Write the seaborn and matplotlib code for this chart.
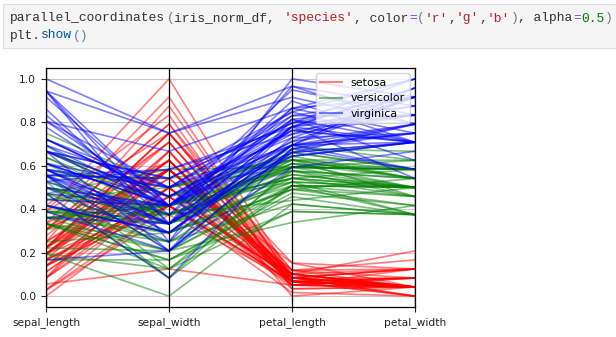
import numpy as np
import pandas as pd
import matplotlib
matplotlib.use("Agg")
import matplotlib.pyplot as plt
from matplotlib.lines import Line2D
from matplotlib.patches import Rectangle
import seaborn as sns

# Iris measurements (cm), 50 rows per species
sepal_length = [
    5.1, 4.9, 4.7, 4.6, 5.0, 5.4, 4.6, 5.0, 4.4, 4.9, 5.4, 4.8, 4.8, 4.3, 5.8, 5.7, 5.4, 5.1, 5.7, 5.1,
    5.4, 5.1, 4.6, 5.1, 4.8, 5.0, 5.0, 5.2, 5.2, 4.7, 4.8, 5.4, 5.2, 5.5, 4.9, 5.0, 5.5, 4.9, 4.4, 5.1,
    5.0, 4.5, 4.4, 5.0, 5.1, 4.8, 5.1, 4.6, 5.3, 5.0,
    7.0, 6.4, 6.9, 5.5, 6.5, 5.7, 6.3, 4.9, 6.6, 5.2, 5.0, 5.9, 6.0, 6.1, 5.6, 6.7, 5.6, 5.8, 6.2, 5.6,
    5.9, 6.1, 6.3, 6.1, 6.4, 6.6, 6.8, 6.7, 6.0, 5.7, 5.5, 5.5, 5.8, 6.0, 5.4, 6.0, 6.7, 6.3, 5.6, 5.5,
    5.5, 6.1, 5.8, 5.0, 5.6, 5.7, 5.7, 6.2, 5.1, 5.7,
    6.3, 5.8, 7.1, 6.3, 6.5, 7.6, 4.9, 7.3, 6.7, 7.2, 6.5, 6.4, 6.8, 5.7, 5.8, 6.4, 6.5, 7.7, 7.7, 6.0,
    6.9, 5.6, 7.7, 6.3, 6.7, 7.2, 6.2, 6.1, 6.4, 7.2, 7.4, 7.9, 6.4, 6.3, 6.1, 7.7, 6.3, 6.4, 6.0, 6.9,
    6.7, 6.9, 5.8, 6.8, 6.7, 6.7, 6.3, 6.5, 6.2, 5.9,
]
sepal_width = [
    3.5, 3.0, 3.2, 3.1, 3.6, 3.9, 3.4, 3.4, 2.9, 3.1, 3.7, 3.4, 3.0, 3.0, 4.0, 4.4, 3.9, 3.5, 3.8, 3.8,
    3.4, 3.7, 3.6, 3.3, 3.4, 3.0, 3.4, 3.5, 3.4, 3.2, 3.1, 3.4, 4.1, 4.2, 3.1, 3.2, 3.5, 3.6, 3.0, 3.4,
    3.5, 2.3, 3.2, 3.5, 3.8, 3.0, 3.8, 3.2, 3.7, 3.3,
    3.2, 3.2, 3.1, 2.3, 2.8, 2.8, 3.3, 2.4, 2.9, 2.7, 2.0, 3.0, 2.2, 2.9, 2.9, 3.1, 3.0, 2.7, 2.2, 2.5,
    3.2, 2.8, 2.5, 2.8, 2.9, 3.0, 2.8, 3.0, 2.9, 2.6, 2.4, 2.4, 2.7, 2.7, 3.0, 3.4, 3.1, 2.3, 3.0, 2.5,
    2.6, 3.0, 2.6, 2.3, 2.7, 3.0, 2.9, 2.9, 2.5, 2.8,
    3.3, 2.7, 3.0, 2.9, 3.0, 3.0, 2.5, 2.9, 2.5, 3.6, 3.2, 2.7, 3.0, 2.5, 2.8, 3.2, 3.0, 3.8, 2.6, 2.2,
    3.2, 2.8, 2.8, 2.7, 3.3, 3.2, 2.8, 3.0, 2.8, 3.0, 2.8, 3.8, 2.8, 2.8, 2.6, 3.0, 3.4, 3.1, 3.0, 3.1,
    3.1, 3.1, 2.7, 3.2, 3.3, 3.0, 2.5, 3.0, 3.4, 3.0,
]
petal_length = [
    1.4, 1.4, 1.3, 1.5, 1.4, 1.7, 1.4, 1.5, 1.4, 1.5, 1.5, 1.6, 1.4, 1.1, 1.2, 1.5, 1.3, 1.4, 1.7, 1.5,
    1.7, 1.5, 1.0, 1.7, 1.9, 1.6, 1.6, 1.5, 1.4, 1.6, 1.6, 1.5, 1.5, 1.4, 1.5, 1.2, 1.3, 1.4, 1.3, 1.5,
    1.3, 1.3, 1.3, 1.6, 1.9, 1.4, 1.6, 1.4, 1.5, 1.4,
    4.7, 4.5, 4.9, 4.0, 4.6, 4.5, 4.7, 3.3, 4.6, 3.9, 3.5, 4.2, 4.0, 4.7, 3.6, 4.4, 4.5, 4.1, 4.5, 3.9,
    4.8, 4.0, 4.9, 4.7, 4.3, 4.4, 4.8, 5.0, 4.5, 3.5, 3.8, 3.7, 3.9, 5.1, 4.5, 4.5, 4.7, 4.4, 4.1, 4.0,
    4.4, 4.6, 4.0, 3.3, 4.2, 4.2, 4.2, 4.3, 3.0, 4.1,
    6.0, 5.1, 5.9, 5.6, 5.8, 6.6, 4.5, 6.3, 5.8, 6.1, 5.1, 5.3, 5.5, 5.0, 5.1, 5.3, 5.5, 6.7, 6.9, 5.0,
    5.7, 4.9, 6.7, 4.9, 5.7, 6.0, 4.8, 4.9, 5.6, 5.8, 6.1, 6.4, 5.6, 5.1, 5.6, 6.1, 5.6, 5.5, 4.8, 5.4,
    5.6, 5.1, 5.1, 5.9, 5.7, 5.2, 5.0, 5.2, 5.4, 5.1,
]
petal_width = [
    0.2, 0.2, 0.2, 0.2, 0.2, 0.4, 0.3, 0.2, 0.2, 0.1, 0.2, 0.2, 0.1, 0.1, 0.2, 0.4, 0.4, 0.3, 0.3, 0.3,
    0.2, 0.4, 0.2, 0.5, 0.2, 0.2, 0.4, 0.2, 0.2, 0.2, 0.2, 0.4, 0.1, 0.2, 0.2, 0.2, 0.2, 0.1, 0.2, 0.2,
    0.3, 0.3, 0.2, 0.6, 0.4, 0.3, 0.2, 0.2, 0.2, 0.2,
    1.4, 1.5, 1.5, 1.3, 1.5, 1.3, 1.6, 1.0, 1.3, 1.4, 1.0, 1.5, 1.0, 1.4, 1.3, 1.4, 1.5, 1.0, 1.5, 1.1,
    1.8, 1.3, 1.5, 1.2, 1.3, 1.4, 1.4, 1.7, 1.5, 1.0, 1.1, 1.0, 1.2, 1.6, 1.5, 1.6, 1.5, 1.3, 1.3, 1.3,
    1.2, 1.4, 1.2, 1.0, 1.3, 1.2, 1.3, 1.3, 1.1, 1.3,
    2.5, 1.9, 2.1, 1.8, 2.2, 2.1, 1.7, 1.8, 1.8, 2.5, 2.0, 1.9, 2.1, 2.0, 2.4, 2.3, 1.8, 2.2, 2.3, 1.5,
    2.3, 2.0, 2.0, 1.8, 2.1, 1.8, 1.8, 1.8, 2.1, 1.6, 1.9, 2.0, 2.2, 1.5, 1.4, 2.3, 2.4, 1.8, 1.8, 2.1,
    2.4, 2.3, 1.9, 2.3, 2.5, 2.3, 1.9, 2.0, 2.3, 1.8,
]
species_names = ["setosa", "versicolor", "virginica"]
species = [name for name in species_names for _ in range(50)]

features = ["sepal_length", "sepal_width", "petal_length", "petal_width"]
line_colors = {"setosa": "r", "versicolor": "g", "virginica": "b"}

# min-max normalise every measurement column
iris_df = pd.DataFrame({
    "sepal_length": sepal_length,
    "sepal_width": sepal_width,
    "petal_length": petal_length,
    "petal_width": petal_width,
})
iris_norm_df = (iris_df - iris_df.min()) / (iris_df.max() - iris_df.min())
iris_norm_df["species"] = species
iris_norm_df["id"] = np.arange(len(iris_norm_df))

long_df = iris_norm_df.melt(id_vars=["id", "species"], value_vars=features,
                            var_name="feature", value_name="value")
long_df["pos"] = long_df["feature"].map({f: i for i, f in enumerate(features)})

W, H = 616, 337
fig = plt.figure(figsize=(W / 100, H / 100), dpi=100)
fig.patch.set_facecolor("white")

# notebook input cell
fig.patches.append(Rectangle((3 / W, 1 - 48 / H), (W - 3) / W, 44 / H,
                             transform=fig.transFigure, facecolor="#f5f5f5",
                             edgecolor="#e0e0e0", linewidth=0.8))

mono = "Liberation Mono"
char_w = 7.82
txt = "#333333"
brk = "#5b7fa6"
code_lines = [
    [("parallel_coordinates", txt), ("(", brk), ("iris_norm_df, ", txt),
     ("'species'", "#ba2121"), (", color", txt), ("=", "#aa22ff"), ("(", brk),
     ("'r'", "#ba2121"), (",", txt), ("'g'", "#ba2121"), (",", txt),
     ("'b'", "#ba2121"), (")", brk), (", alpha", txt), ("=", "#aa22ff"),
     ("0.5", "#008000"), (")", brk)],
    [("plt.", txt), ("show", "#0055aa"), ("()", brk)],
]
for row, tokens in enumerate(code_lines):
    y = 18.5 + row * 17
    col = 0
    for text, color in tokens:
        fig.text((10 + col * char_w) / W, 1 - y / H, text, family=mono, fontsize=9.4,
                 color=color, va="center", ha="left")
        col += len(text)

ax = fig.add_axes([46 / W, (H - 307) / H, (415 - 46) / W, (307 - 68) / H])

sns.lineplot(data=long_df, x="pos", y="value", hue="species", units="id",
             estimator=None, sort=False, palette=line_colors, alpha=0.5,
             linewidth=1.2, legend=False, ax=ax)

for i in range(len(features)):
    ax.axvline(i, color="black", linewidth=0.9)

ax.set_xlim(0, len(features) - 1)
ax.set_ylim(-0.05, 1.05)
ax.set_xticks(range(len(features)))
ax.set_xticklabels(features)
ax.set_yticks(np.arange(0, 1.01, 0.2))
ax.set_xlabel("")
ax.set_ylabel("")
ax.grid(True, color="#c8c8c8", linewidth=0.8)
ax.set_axisbelow(True)
ax.tick_params(labelsize=7.7, colors="#222222", labelcolor="#222222")
for sp in ax.spines.values():
    sp.set_linewidth(0.9)

handles = [Line2D([0], [0], color=line_colors[s], alpha=0.5, linewidth=1.5) for s in species_names]
ax.legend(handles, species_names, loc="upper right", fontsize=7.9)

fig.savefig("out.png", dpi=100)
